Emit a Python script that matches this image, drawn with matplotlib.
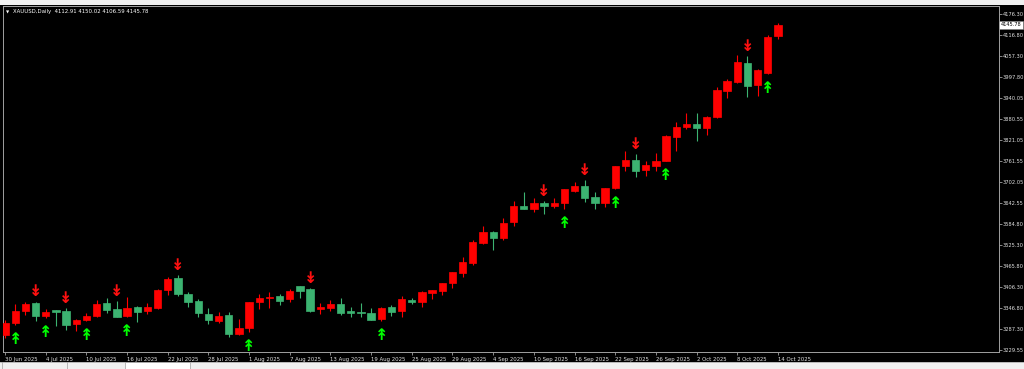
import matplotlib
matplotlib.use('Agg')
import matplotlib.pyplot as plt
from matplotlib.patches import Rectangle
from matplotlib.lines import Line2D

# XAUUSD daily bars, 30 Jun 2025 - 14 Oct 2025
opens = [3272, 3305, 3339, 3361, 3324, 3342, 3340, 3302, 3314, 3325,
         3363, 3345, 3325, 3351, 3340, 3349, 3399, 3432, 3388, 3369,
         3330, 3311, 3328, 3276, 3291, 3364, 3375, 3382, 3372, 3410,
         3401, 3345, 3349, 3358, 3339, 3337, 3335, 3316, 3350, 3339,
         3371, 3366, 3391, 3397, 3417, 3446, 3476, 3532, 3562, 3544,
         3591, 3636, 3627, 3645, 3636, 3645, 3678, 3692, 3660, 3643,
         3686, 3747, 3766, 3737, 3749, 3763, 3831, 3859, 3866, 3855,
         3886, 3960, 3986, 4038, 3976, 4011, 4112.91]
highs = [3314, 3359, 3365, 3366, 3345, 3343, 3348, 3317, 3334, 3370,
         3377, 3368, 3378, 3354, 3361, 3401, 3436, 3441, 3394, 3372,
         3347, 3336, 3336, 3316, 3366, 3387, 3392, 3387, 3401, 3411,
         3404, 3361, 3370, 3377, 3352, 3361, 3347, 3351, 3355, 3382,
         3377, 3396, 3400, 3418, 3449, 3492, 3540, 3580, 3564, 3601,
         3648, 3676, 3657, 3650, 3657, 3683, 3704, 3709, 3674, 3686,
         3749, 3791, 3782, 3762, 3784, 3835, 3873, 3897, 3898, 3889,
         3970, 3992, 4061, 4058, 4020, 4117, 4150.02]
lows = [3263, 3300, 3328, 3311, 3320, 3297, 3286, 3283, 3311, 3322,
        3334, 3322, 3322, 3309, 3331, 3346, 3385, 3382, 3352, 3323,
        3302, 3305, 3267, 3272, 3281, 3345, 3347, 3356, 3366, 3375,
        3338, 3331, 3340, 3328, 3323, 3323, 3313, 3311, 3325, 3322,
        3359, 3350, 3373, 3385, 3404, 3436, 3469, 3527, 3511, 3540,
        3579, 3626, 3619, 3612, 3631, 3626, 3675, 3646, 3626, 3632,
        3682, 3735, 3716, 3721, 3735, 3762, 3791, 3852, 3818, 3835,
        3883, 3940, 3983, 3943, 3945, 4007, 4106.59]
closes = [3306, 3339, 3359, 3325, 3338, 3337, 3300, 3314, 3325, 3359,
          3342, 3323, 3347, 3338, 3352, 3399, 3430, 3387, 3366, 3335,
          3314, 3326, 3275, 3291, 3364, 3375, 3380, 3368, 3396, 3397,
          3340, 3352, 3358, 3335, 3335, 3333, 3314, 3349, 3338, 3373,
          3365, 3394, 3399, 3417, 3448, 3477, 3535, 3561, 3544, 3588,
          3636, 3627, 3643, 3634, 3645, 3682, 3692, 3659, 3643, 3685,
          3748, 3765, 3735, 3751, 3762, 3833, 3859, 3866, 3854, 3887,
          3962, 3988, 4042, 3974, 4018, 4112, 4145.78]

# bars that carry the indicator arrows
sell_bars = [3, 6, 11, 17, 30, 53, 57, 62, 73]
buy_bars = [1, 4, 8, 12, 24, 37, 55, 60, 65, 75]

date_labels = ['30 Jun 2025', '4 Jul 2025', '10 Jul 2025', '16 Jul 2025',
               '22 Jul 2025', '28 Jul 2025', '1 Aug 2025', '7 Aug 2025',
               '13 Aug 2025', '19 Aug 2025', '25 Aug 2025', '29 Aug 2025',
               '4 Sep 2025', '10 Sep 2025', '16 Sep 2025', '22 Sep 2025',
               '26 Sep 2025', '2 Oct 2025', '8 Oct 2025', '14 Oct 2025']
price_ticks = [3229.55, 3287.30, 3346.80, 3406.30, 3465.80, 3525.30, 3584.80,
               3642.55, 3702.05, 3761.55, 3821.05, 3880.55, 3940.05, 3997.80,
               4057.30, 4116.80, 4176.30]

W, H = 1024, 369
fig = plt.figure(figsize=(W / 100, H / 100), dpi=100, facecolor='black')
ax = fig.add_axes([3 / W, 1 - 352 / H, 996 / W, 346 / H], facecolor='black')

up_col = '#ff0000'
dn_col = '#3cb371'
x = list(range(len(opens)))
cols = [up_col if c >= o else dn_col for o, c in zip(opens, closes)]

# wicks then bodies
ax.vlines(x, lows, highs, colors=cols, linewidth=0.8, zorder=2)
bottoms = [min(o, c) for o, c in zip(opens, closes)]
heights = [abs(c - o) for o, c in zip(opens, closes)]
ax.bar(x, heights, bottom=bottoms, width=0.72, color=cols, edgecolor=cols,
       linewidth=0.5, zorder=3)

# fractal style arrows
for i in sell_bars:
    ax.annotate('\u21a1', xy=(i, highs[i]), xytext=(0, 1.5), textcoords='offset points',
                ha='center', va='bottom', color='#ff1010', fontsize=11.5,
                fontweight='bold', zorder=4)
for i in buy_bars:
    ax.annotate('\u219f', xy=(i, lows[i]), xytext=(0, -5), textcoords='offset points',
                ha='center', va='top', color='#00ff00', fontsize=11.5,
                fontweight='bold', zorder=4)

ax.set_xlim(-0.2, 97.74)
ax.set_ylim(3223.9, 4198.8)

ax.yaxis.tick_right()
ax.set_yticks(price_ticks)
ax.set_yticklabels(['%.2f' % p for p in price_ticks])
ax.set_xticks(list(range(0, len(opens), 4)))
ax.set_xticklabels(date_labels, ha='left')
ax.tick_params(axis='both', colors='#a0a0a0', length=2.2, width=0.6,
               labelcolor='#e0e0e0', labelsize=3.7, pad=0.5)
ax.tick_params(axis='x', labelsize=3.9, pad=1.2, length=2.5)
for s in ax.spines.values():
    s.set_color('#a0a0a0')
    s.set_linewidth(0.7)

# current price box
ax.text(1.002, closes[-1], '%.2f' % closes[-1], transform=ax.get_yaxis_transform(),
        ha='left', va='center', fontsize=3.7, color='black', zorder=5,
        bbox=dict(boxstyle='square,pad=0.3', fc='white', ec='#808080', lw=0.4))

# header text
fig.text(6 / W, 1 - 12 / H, '\u25bc', color='white', fontsize=3, va='center')
fig.text(13 / W, 1 - 12 / H, 'XAUUSD,Daily  4112.91 4150.02 4106.59 4145.78',
         color='white', fontsize=3.9, va='center')

# window frame strips (top bar, bottom tabs)
fig.patches.append(Rectangle((0, 1 - 5 / H), 1, 5 / H, transform=fig.transFigure,
                             fc='#f0f0f0', ec='none'))
fig.patches.append(Rectangle((0, 0), 1, 7 / H, transform=fig.transFigure,
                             fc='#f0f0f0', ec='none'))
fig.patches.append(Rectangle((125 / W, 0), 65 / W, 7 / H, transform=fig.transFigure,
                             fc='white', ec='#a0a0a0', lw=0.5))
for px in [2, 67]:
    fig.lines.append(Line2D([px / W, px / W], [0, 7 / H], transform=fig.transFigure,
                            color='#a0a0a0', lw=0.5))
fig.lines.append(Line2D([0, 1], [7 / H, 7 / H], transform=fig.transFigure,
                        color='#a0a0a0', lw=0.5))

fig.savefig('out.png', dpi=100, facecolor=fig.get_facecolor())
